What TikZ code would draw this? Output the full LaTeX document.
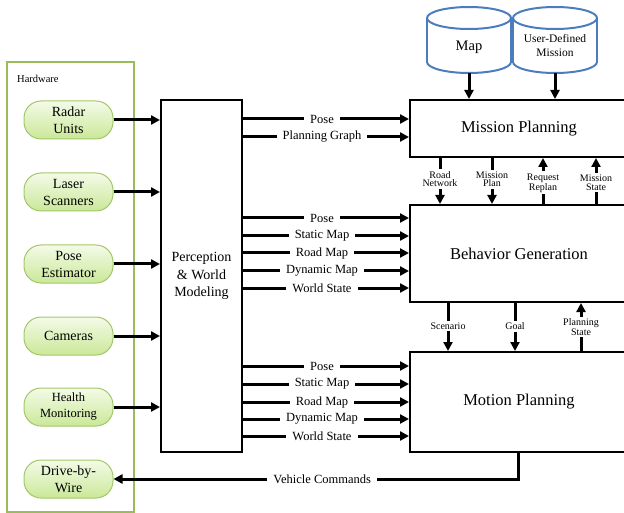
\documentclass[tikz,border=0pt]{standalone}
\usepackage{fontspec}
\setmainfont{LiberationSerif}[Extension=.ttf, UprightFont=*-Regular, BoldFont=*-Bold, ItalicFont=*-Italic, BoldItalicFont=*-BoldItalic]
\usetikzlibrary{arrows.meta,calc}
\definecolor{hwgreen}{RGB}{155,187,89}
\definecolor{nodeborder}{RGB}{163,199,106}
\definecolor{gtop}{RGB}{244,251,232}
\definecolor{gbot}{RGB}{202,232,152}
\definecolor{cylblue}{RGB}{75,125,190}
\begin{document}
\begin{tikzpicture}[x=1pt,y=-1pt,
  hw/.style={draw=hwgreen, line width=2pt, inner sep=0},
  dev/.style={draw=nodeborder, line width=1pt, rounded corners=17pt, top color=gtop, bottom color=gbot, minimum width=89pt, minimum height=38pt, inner sep=0, align=center, font=\fontsize{14}{17}\selectfont},
  blk/.style={draw, line width=2pt, inner sep=0, align=center},
  arr/.style={line width=3pt, -{Triangle[length=9pt,width=9pt]}},
  lbl/.style={fill=white, inner xsep=6pt, inner ysep=1pt, font=\fontsize{12.5}{14}\selectfont},
  slbl/.style={fill=white, inner xsep=1pt, inner ysep=2pt, align=center, font=\fontsize{10}{8.5}\selectfont},
  cyl/.style={draw=cylblue, line width=2pt, fill=white},
  cylnode/.style={inner sep=0, minimum width=84pt, minimum height=66pt}
]
\useasboundingbox (0,0) rectangle (624,513);
\clip (0,0) rectangle (624,513);

% Hardware group
\node[hw, minimum width=127pt, minimum height=450pt] (hwbox) at (70.5,287) {};
\node[anchor=west, font=\fontsize{10.5}{12}\selectfont, inner sep=0] (hwlabel) at (17,79) {Hardware};
\node[dev] (radar) at (68.5,120) {Radar\\Units};
\node[dev] (laser) at (68.5,192) {Laser\\Scanners};
\node[dev] (pose) at (68.5,264) {Pose\\Estimator};
\node[dev] (cam) at (68.5,336) {Cameras};
\node[dev, font=\fontsize{12.5}{16}\selectfont] (health) at (68.5,407) {Health\\Monitoring};
\node[dev] (dbw) at (68.5,479) {Drive-by-\\Wire};

% Perception
\node[blk, minimum width=81pt, minimum height=352pt, font=\fontsize{14}{17.5}\selectfont] (perc) at (201.5,276) {Perception\\\& World\\Modeling};

% Planning blocks
\node[blk, minimum width=218pt, minimum height=57pt, font=\fontsize{16.5}{20}\selectfont] (mp) at (519,128.5) {Mission Planning};
\node[blk, minimum width=218pt, minimum height=97pt, font=\fontsize{16.5}{20}\selectfont] (bg) at (519,253.5) {Behavior Generation};
\node[blk, minimum width=218pt, minimum height=100pt, font=\fontsize{16.5}{20}\selectfont] (mop) at (519,402) {Motion Planning};

% Cylinders
\node[cylnode] (map) at (469,40) {};
\node[cylnode] (udm) at (555,40) {};
\foreach \c in {469,555} {
  \filldraw[cyl] (\c,62) ellipse[x radius=42pt, y radius=11pt];
  \fill[white] (\c-41,18) rectangle (\c+41,62);
  \draw[cyl] (\c-42,18) -- (\c-42,62) (\c+42,18) -- (\c+42,62);
  \filldraw[cyl] (\c,18) ellipse[x radius=42pt, y radius=11pt];
}
\node[font=\fontsize{14.5}{17}\selectfont, inner sep=0] (maptext) at (469,47) {Map};
\node[font=\fontsize{11.5}{14}\selectfont, inner sep=0, align=center] (udmtext) at (555,46) {User-Defined\\Mission};

\draw[arr] (map.south) -- (map.south |- mp.north);
\draw[arr] (udm.south) -- (udm.south |- mp.north);

% Hardware -> Perception
\foreach \n in {radar,laser,pose,cam,health}
  \draw[arr] (\n.east) -- (\n.east -| perc.west);

% Perception -> Mission Planning
\draw[arr] (perc.east |- 0,119) -- node[lbl,pos=0.476]{Pose} (mp.west |- 0,119);
\draw[arr] (perc.east |- 0,137) -- node[lbl,pos=0.476]{Planning Graph} (mp.west |- 0,137);

% Perception -> Behavior Generation
\foreach \y/\t in {218/Pose,236/Static Map,253/Road Map,271/Dynamic Map,288/World State}
  \draw[arr] (perc.east |- 0,\y) -- node[lbl,pos=0.476]{\t} (bg.west |- 0,\y);

% Perception -> Motion Planning
\foreach \y/\t in {366/Pose,384/Static Map,402/Road Map,419/Dynamic Map,436/World State}
  \draw[arr] (perc.east |- 0,\y) -- node[lbl,pos=0.476]{\t} (mop.west |- 0,\y);

% Mission <-> Behavior
\draw[arr] (mp.south -| 440,0) -- node[slbl,pos=0.46]{Road\\Network} (bg.north -| 440,0);
\draw[arr] (mp.south -| 492,0) -- node[slbl,pos=0.46]{Mission\\Plan} (bg.north -| 492,0);
\draw[arr] (bg.north -| 543,0) -- node[slbl,pos=0.46]{Request\\Replan} (mp.south -| 543,0);
\draw[arr] (bg.north -| 596,0) -- node[slbl,pos=0.46]{Mission\\State} (mp.south -| 596,0);

% Behavior <-> Motion
\draw[arr] (bg.south -| 448,0) -- node[slbl,pos=0.48]{Scenario} (mop.north -| 448,0);
\draw[arr] (bg.south -| 515,0) -- node[slbl,pos=0.48]{Goal} (mop.north -| 515,0);
\draw[arr] (mop.north -| 581,0) -- node[slbl,pos=0.5]{Planning\\State} (bg.south -| 581,0);

% Motion -> Drive-by-Wire
\coordinate (vc) at (518,479);
\draw[arr] (mop.south -| vc) -- (vc) -- node[lbl,pos=0.484]{Vehicle Commands} (dbw.east);
\end{tikzpicture}
\end{document}
